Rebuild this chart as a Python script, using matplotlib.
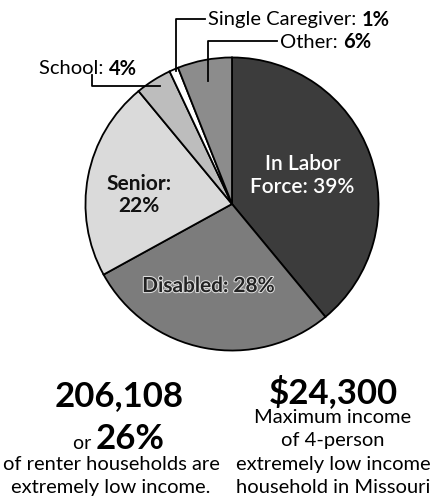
import matplotlib
matplotlib.use("Agg")
import matplotlib.pyplot as plt
import matplotlib.patheffects as pe

plt.rcParams['font.family'] = ['Lato', 'DejaVu Sans']

# data
categories = ["In Labor Force", "Disabled", "Senior", "School", "Single Caregiver", "Other"]
shares = [39, 28, 22, 4, 1, 6]
colors = ["#3c3c3c", "#7c7c7c", "#dadada", "#bdbdbd", "#ffffff", "#8c8c8c"]

W, H = 443, 502
fig = plt.figure(figsize=(W / 100, H / 100), dpi=100)

# pie axes: centre (232, 205) px, radius 148 px
cx, cy, r = 232, 205, 148
ax = fig.add_axes([(cx - r) / W, (H - cy - r) / H, 2 * r / W, 2 * r / H])
wedges, _ = ax.pie(shares, colors=colors, startangle=90, counterclock=False,
                   wedgeprops=dict(edgecolor="black", linewidth=1.3))
ax.set_xlim(-1.01, 1.01)
ax.set_ylim(-1.01, 1.01)
ax.set_aspect("equal")
ax.axis("off")

# labels inside the pie
ax.text(0.48, 0.20, "In Labor\nForce: %d%%" % shares[0], color="white",
        ha="center", va="center", fontsize=15, fontweight="semibold", linespacing=1.15)
ax.text(-0.635, 0.07, "Senior:\n%d%%" % shares[2], color="#111111",
        ha="center", va="center", fontsize=15, fontweight="bold", linespacing=1.15)
ax.text(-0.16, -0.56, "Disabled: %d%%" % shares[1], color="#222222",
        ha="center", va="center", fontsize=15, fontweight="bold",
        path_effects=[pe.withStroke(linewidth=1.5, foreground="#dddddd")])

# overlay in pixel coords for callouts and bottom text
ov = fig.add_axes([0, 0, 1, 1])
ov.set_xlim(0, W)
ov.set_ylim(H, 0)
ov.axis("off")
ov.patch.set_alpha(0)

renderer = fig.canvas.get_renderer()


def label(x, y, name, value, size=14.5):
    t = ov.text(x, y, name + ": ", ha="left", va="center", fontsize=size)
    w = t.get_window_extent(renderer).width
    ov.text(x + w, y, "%d%%" % value, ha="left", va="center",
            fontsize=size, fontweight="bold")


lc = dict(color="black", linewidth=1.3)
# Single Caregiver
ov.plot([176, 176, 205], [72, 20, 20], **lc)
label(208, 20, categories[4], shares[4])
# Other
ov.plot([208, 208, 277], [82, 42, 42], **lc)
label(280, 42, categories[5], shares[5])
# School
ov.plot([92, 92, 160], [76, 87, 87], **lc)
label(39, 69, categories[3], shares[3])

# bottom stats
ov.text(119, 396, "206,108", ha="center", va="center", fontsize=25, fontweight="bold")
t = ov.text(0, 0, "26%", fontsize=25, fontweight="bold")
w26 = t.get_window_extent(renderer).width
t.remove()
tor = ov.text(0, 0, "or ", fontsize=14)
wor = tor.get_window_extent(renderer).width
tor.remove()
x0 = 119 - (w26 + wor) / 2
ov.text(x0, 449, "or ", ha="left", va="baseline", fontsize=14)
ov.text(x0 + wor, 449, "26%", ha="left", va="baseline", fontsize=25, fontweight="bold")
ov.text(111, 465, "of renter households are", ha="center", va="center", fontsize=14.5)
ov.text(111, 488, "extremely low income.", ha="center", va="center", fontsize=14.5)

ov.text(333, 392, "$24,300", ha="center", va="center", fontsize=25, fontweight="bold")
ov.text(333, 418, "Maximum income", ha="center", va="center", fontsize=14.5)
ov.text(333, 441, "of 4-person", ha="center", va="center", fontsize=14.5)
ov.text(333, 465, "extremely low income", ha="center", va="center", fontsize=14.5)
ov.text(333, 488, "household in Missouri", ha="center", va="center", fontsize=14.5)

fig.savefig("out.png", dpi=100)
